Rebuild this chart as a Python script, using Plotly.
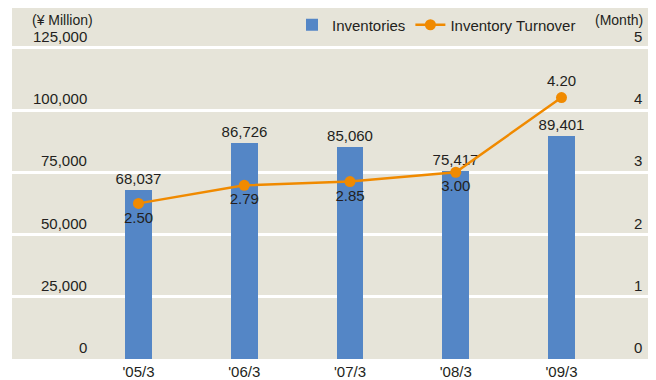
import plotly.graph_objects as go

categories = ["'05/3", "'06/3", "'07/3", "'08/3", "'09/3"]
inventories = [68037, 86726, 85060, 75417, 89401]
turnover = [2.50, 2.79, 2.85, 3.00, 4.20]
turnover_pos = ["bottom center", "bottom center", "bottom center", "bottom center", "top center"]
left_ticks = [0, 25000, 50000, 75000, 100000, 125000]
right_ticks = [0, 1, 2, 3, 4, 5]

FONT = "Liberation Sans, Arial, Helvetica, sans-serif"
TXT = "#231f20"
BAR = "#5486c6"
LINE = "#f08a00"
BG = "#e6e4d9"
FS = 15

fig = go.Figure()
fig.add_trace(go.Bar(
    x=categories, y=inventories, name="Inventories",
    marker=dict(color=BAR, line=dict(width=0)), width=0.255,
    text=[f"{v:,}" for v in inventories], textposition="outside",
    constraintext="none",
    textfont=dict(size=FS, color=TXT, family=FONT), cliponaxis=False,
))
fig.add_trace(go.Scatter(
    x=categories, y=turnover, name="Inventory Turnover", yaxis="y2",
    mode="lines+markers+text",
    line=dict(color=LINE, width=2.5),
    marker=dict(color=LINE, size=11),
    text=[f"{v:.2f}" for v in turnover], textposition=turnover_pos,
    textfont=dict(size=FS, color=TXT, family=FONT), cliponaxis=False,
))

ytop = 351 / 62.25 * 25000
y2top = 351 / 62.25

annotations = []
for v in left_ticks:
    annotations.append(dict(x=(89 - 12) / 636, xref="paper", y=v, yref="y",
                            text=f"{v:,}", showarrow=False, xanchor="right",
                            yanchor="bottom", yshift=1,
                            font=dict(size=FS, color=TXT, family=FONT)))
for v in right_ticks:
    annotations.append(dict(x=(644 - 12) / 636, xref="paper", y=v, yref="y2",
                            text=str(v), showarrow=False, xanchor="right",
                            yanchor="bottom", yshift=1,
                            font=dict(size=FS, color=TXT, family=FONT)))
annotations.append(dict(x=(95 - 12) / 636, xref="paper", y=1, yref="paper",
                        text="(¥ Million)", showarrow=False, xanchor="right",
                        yanchor="top", yshift=-2,
                        font=dict(size=14, color=TXT, family=FONT)))
annotations.append(dict(x=(645 - 12) / 636, xref="paper", y=1, yref="paper",
                        text="(Month)", showarrow=False, xanchor="right",
                        yanchor="top", yshift=-2,
                        font=dict(size=14, color=TXT, family=FONT)))

fig.update_layout(
    width=656, height=380,
    margin=dict(l=12, r=8, t=8, b=21, pad=0, autoexpand=False),
    paper_bgcolor="white", plot_bgcolor=BG,
    font=dict(family=FONT, size=FS, color=TXT),
    showlegend=True,
    legend=dict(orientation="h", x=(292 - 12) / 636, xanchor="left",
                y=(351 - 17) / 351, yanchor="middle",
                bgcolor="rgba(0,0,0,0)", font=dict(size=FS, color=TXT, family=FONT),
                traceorder="normal"),
    xaxis=dict(range=[-1.196, 4.818], showgrid=False, zeroline=False,
               showline=False, ticks="", ticklabelstandoff=2, automargin=False,
               tickfont=dict(size=FS, color=TXT, family=FONT)),
    yaxis=dict(range=[0, ytop], tickvals=left_ticks[1:], showticklabels=False,
               showgrid=True, gridcolor="white", gridwidth=3, zeroline=False,
               showline=False, ticks="", automargin=False),
    yaxis2=dict(range=[0, y2top], overlaying="y", side="right", showgrid=False,
                showticklabels=False, zeroline=False, showline=False, ticks="",
                automargin=False),
    annotations=annotations,
    bargap=0,
)

fig.write_html("out.html")
